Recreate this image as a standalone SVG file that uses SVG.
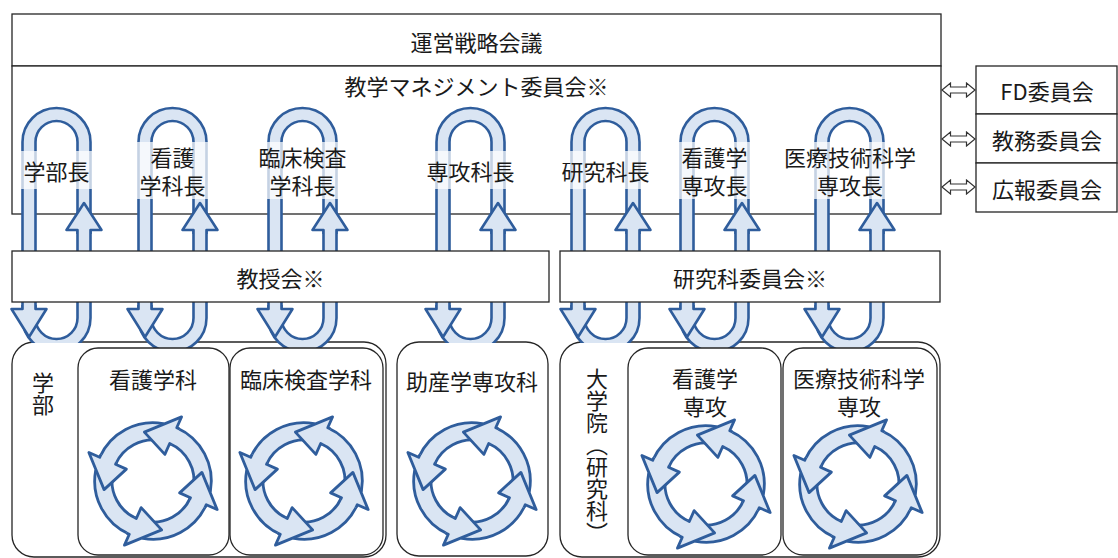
<svg xmlns="http://www.w3.org/2000/svg" xmlns:xlink="http://www.w3.org/1999/xlink" width="1118" height="558" viewBox="0 0 1118 558">
<style>
.box{fill:#fff;stroke:#262626;stroke-width:1.3}
.t{font-family:"Noto Sans CJK JP","Noto Sans",sans-serif;font-size:22px;fill:#1a1a1a;text-anchor:middle;dominant-baseline:central}
.v{font-family:"Noto Sans CJK JP","Noto Sans",sans-serif;font-size:22px;fill:#1a1a1a;text-anchor:middle;writing-mode:vertical-rl}
.ab{fill:#dae5f3;stroke:#2f5d9c;stroke-width:2.6;stroke-linejoin:round}
.hf{fill:#dae5f3;stroke:none}
.hs{fill:none;stroke:#2f5d9c;stroke-width:2.6;stroke-linejoin:round}
.lbg{fill:#fff;fill-opacity:0.72}
.dbl{fill:#fff;stroke:#333;stroke-width:1.2}
</style>
<defs>
  <g id="loop">
    <path class="ab" d="M 61.5 215 L 61.5 142 A 34 34 0 0 0 -6.5 142 L -6.5 309 L 6.5 309 L 6.5 142 A 21 21 0 0 1 48.5 142 L 48.5 215 Z"/>
    <path class="ab" d="M -6.5 318 A 34 34 0 0 0 61.5 318 L 61.5 230 L 48.5 230 L 48.5 318 A 21 21 0 0 1 6.5 318 Z"/>
    <path class="hf" d="M -6.5 305 L -6.5 309 L -17.5 309 L 0 337 L 17.5 309 L 6.5 309 L 6.5 305 Z"/>
    <path class="hs" d="M -6.5 305 L -6.5 309 L -17.5 309 L 0 337 L 17.5 309 L 6.5 309 L 6.5 305"/>
    <path class="hf" d="M 48.5 234 L 48.5 230 L 37.5 230 L 55 203 L 72.5 230 L 61.5 230 L 61.5 234 Z"/>
    <path class="hs" d="M 48.5 234 L 48.5 230 L 37.5 230 L 55 203 L 72.5 230 L 61.5 230 L 61.5 234"/>
  </g>
  <path id="cb" class="ab" d="M -9.37 53.18 A 54 54 0 0 0 49.33 21.96 L 34.71 15.45 A 38 38 0 0 1 -6.60 37.42 Z"/>
  <g id="ch">
    <path class="hf" d="M 33.86 17.25 L 34.71 15.45 L 24.66 10.98 L 45.30 -7.99 L 59.38 26.44 L 49.33 21.96 L 48.11 24.52 Z"/>
    <path class="hs" d="M 33.86 17.25 L 34.71 15.45 L 24.66 10.98 L 45.30 -7.99 L 59.38 26.44 L 49.33 21.96 L 48.11 24.52"/>
  </g>
  <g id="cycle">
    <use xlink:href="#cb"/>
    <use xlink:href="#cb" transform="rotate(-90)"/>
    <use xlink:href="#cb" transform="rotate(-180)"/>
    <use xlink:href="#cb" transform="rotate(-270)"/>
    <use xlink:href="#ch"/>
    <use xlink:href="#ch" transform="rotate(-90)"/>
    <use xlink:href="#ch" transform="rotate(-180)"/>
    <use xlink:href="#ch" transform="rotate(-270)"/>
  </g>
  <path id="dbl" class="dbl" d="M 0 0 L 8.5 -7 L 8.5 -3 L 24.5 -3 L 24.5 -7 L 33 0 L 24.5 7 L 24.5 3 L 8.5 3 L 8.5 7 Z"/>
  <clipPath id="cutLow"><rect x="0" y="0" width="1118" height="343"/></clipPath>
</defs>

<g id="unei">
  <rect class="box" x="12" y="14" width="929" height="52"/>
  <text class="t" x="476.5" y="41">運営戦略会議</text>
</g>
<g id="kyogaku">
  <rect class="box" x="12" y="66" width="929" height="148"/>
  <text class="t" x="476.5" y="85">教学マネジメント委員会※</text>
</g>
<g id="fd">
  <rect class="box" x="976" y="66" width="141" height="48"/>
  <text class="t" x="1047" y="90">FD委員会</text>
</g>
<g id="kyomu">
  <rect class="box" x="976" y="114" width="141" height="49"/>
  <text class="t" x="1047" y="139">教務委員会</text>
</g>
<g id="koho">
  <rect class="box" x="976" y="163" width="141" height="49"/>
  <text class="t" x="1047" y="188">広報委員会</text>
</g>

<g id="gakubu">
  <rect class="box" x="12" y="342" width="374" height="215" rx="22"/>
  <text class="v" x="43" y="394">学部</text>
</g>
<g id="josan">
  <rect class="box" x="397" y="342" width="151" height="214" rx="22"/>
  <text class="t" x="472" y="380">助産学専攻科</text>
</g>
<g id="daigakuin">
  <rect class="box" x="560" y="342" width="380" height="215" rx="22"/>
  <text class="v" x="597" y="456">大学院（研究科）</text>
</g>

<g id="connectors">
  <use xlink:href="#dbl" transform="translate(942 90)"/>
  <use xlink:href="#dbl" transform="translate(942 139)"/>
  <use xlink:href="#dbl" transform="translate(942 187)"/>
  <g clip-path="url(#cutLow)">
    <use xlink:href="#loop" transform="translate(29 0)"/>
    <use xlink:href="#loop" transform="translate(443 0)"/>
    <use xlink:href="#loop" transform="translate(578 0)"/>
  </g>
  <use xlink:href="#loop" transform="translate(145 0)"/>
  <use xlink:href="#loop" transform="translate(275 0)"/>
  <use xlink:href="#loop" transform="translate(687 0)"/>
  <use xlink:href="#loop" transform="translate(822 0)"/>
</g>

<g id="kango-gakka">
  <rect class="box" x="78" y="348" width="151" height="207" rx="20"/>
  <text class="t" x="153" y="378">看護学科</text>
  <use xlink:href="#cycle" transform="translate(153 481) scale(1.08)"/>
</g>
<g id="rinsho-gakka">
  <rect class="box" x="230" y="348" width="153" height="207" rx="20"/>
  <text class="t" x="306" y="378">臨床検査学科</text>
  <use xlink:href="#cycle" transform="translate(304 481) scale(1.08)"/>
</g>
<g id="josan-cycle">
  <use xlink:href="#cycle" transform="translate(472 481) scale(1.08)"/>
</g>
<g id="kango-senko">
  <rect class="box" x="628" y="348" width="153" height="207" rx="20"/>
  <text class="t" x="705" y="377">看護学</text>
  <text class="t" x="705" y="405">専攻</text>
  <use xlink:href="#cycle" transform="translate(706 484) scale(1.08)"/>
</g>
<g id="iryo-senko">
  <rect class="box" x="783" y="348" width="154" height="207" rx="20"/>
  <text class="t" x="859" y="377">医療技術科学</text>
  <text class="t" x="859" y="405">専攻</text>
  <use xlink:href="#cycle" transform="translate(858 484) scale(1.08)"/>
</g>

<g id="kyojukai">
  <rect class="box" x="12" y="251" width="537" height="51"/>
  <text class="t" x="280.5" y="277">教授会※</text>
</g>
<g id="kenkyuka-iinkai">
  <rect class="box" x="560" y="251" width="380" height="51"/>
  <text class="t" x="750" y="277">研究科委員会※</text>
</g>

<g id="gakubucho">
  <rect class="lbg" x="20" y="151" width="73" height="38"/>
  <text class="t" x="56.5" y="170">学部長</text>
</g>
<g id="kango-gakkacho">
  <rect class="lbg" x="136" y="142" width="73" height="57"/>
  <text class="t" x="172.5" y="156">看護</text>
  <text class="t" x="172.5" y="184">学科長</text>
</g>
<g id="rinsho-gakkacho">
  <rect class="lbg" x="256" y="142" width="94" height="57"/>
  <text class="t" x="302.5" y="156">臨床検査</text>
  <text class="t" x="302.5" y="184">学科長</text>
</g>
<g id="senkokacho">
  <rect class="lbg" x="424" y="151" width="94" height="38"/>
  <text class="t" x="470.5" y="170">専攻科長</text>
</g>
<g id="kenkyukacho">
  <rect class="lbg" x="559" y="151" width="94" height="38"/>
  <text class="t" x="605.5" y="170">研究科長</text>
</g>
<g id="kango-senkocho">
  <rect class="lbg" x="678" y="142" width="73" height="57"/>
  <text class="t" x="714.5" y="156">看護学</text>
  <text class="t" x="714.5" y="184">専攻長</text>
</g>
<g id="iryo-senkocho">
  <rect class="lbg" x="781" y="142" width="138" height="57"/>
  <text class="t" x="850" y="156">医療技術科学</text>
  <text class="t" x="850" y="184">専攻長</text>
</g>
</svg>
